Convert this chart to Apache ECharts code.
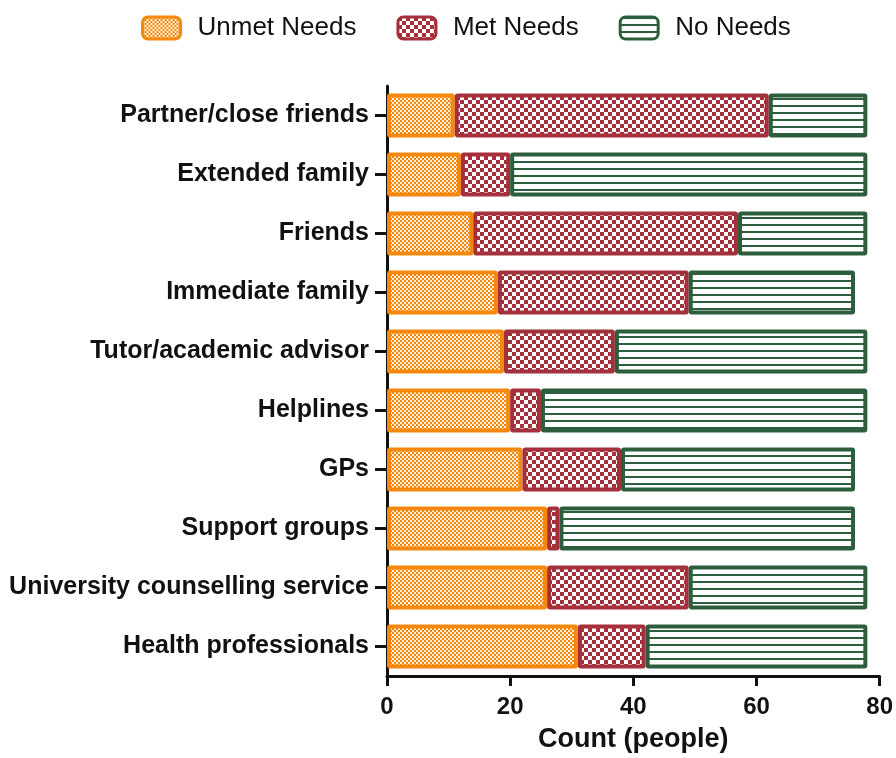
<!DOCTYPE html>
<html>
<head>
<meta charset="utf-8">
<script src="https://cdn.jsdelivr.net/npm/echarts@6/dist/echarts.min.js"></script>
<style>
  html, body { margin: 0; padding: 0; background: #fff; }
  #chart { width: 896px; height: 758px; }
</style>
</head>
<body>
<div id="chart"></div>
<script>
// categories top -> bottom
var categories = ['Partner/close friends', 'Extended family', 'Friends', 'Immediate family',
  'Tutor/academic advisor', 'Helplines', 'GPs', 'Support groups',
  'University counselling service', 'Health professionals'];
var unmetNeeds = [11, 12, 14, 18, 19, 20, 22, 26, 26, 31];
var metNeeds = [51, 8, 43, 31, 18, 5, 16, 2, 23, 11];
var noNeeds = [16, 58, 21, 27, 41, 53, 38, 48, 29, 36];
var xTicks = [0, 20, 40, 60, 80];

var FONT = '"Liberation Sans", Arial, sans-serif';
var ORANGE = '#F5890F', RED = '#A3303A', GREEN = '#2C5E3D';

// small canvas patterns for the hatch fills
function checker(size, c1, c2) {
    var cv = document.createElement('canvas');
    cv.width = size * 2; cv.height = size * 2;
    var ctx = cv.getContext('2d');
    ctx.fillStyle = c2; ctx.fillRect(0, 0, size * 2, size * 2);
    ctx.fillStyle = c1;
    ctx.fillRect(0, 0, size, size);
    ctx.fillRect(size, size, size, size);
    return { image: cv, repeat: 'repeat' };
}
function hlines(period, lw, c1, c2) {
    var cv = document.createElement('canvas');
    cv.width = 4; cv.height = period;
    var ctx = cv.getContext('2d');
    ctx.fillStyle = c2; ctx.fillRect(0, 0, 4, period);
    ctx.fillStyle = c1; ctx.fillRect(0, 0, 4, lw);
    return { image: cv, repeat: 'repeat' };
}

var myChart = echarts.init(document.getElementById('chart'));

function barSeries(name, data, fill, border) {
    return {
        name: name,
        type: 'bar',
        stack: 'total',
        barWidth: 44,
        data: data,
        itemStyle: {
            color: fill,
            borderColor: border,
            borderWidth: 4,
            borderRadius: 1
        }
    };
}

var option = {
    animation: false,
    textStyle: { fontFamily: FONT },
    legend: {
        top: 15,
        left: 141,
        padding: 0,
        icon: 'roundRect',
        itemWidth: 38,
        itemHeight: 22,
        itemGap: 40,
        itemStyle: { borderWidth: 3 },
        textStyle: { fontSize: 26, color: '#111', fontFamily: FONT, padding: [0, 0, 0, 12] },
        data: ['Unmet Needs', 'Met Needs', 'No Needs']
    },
    grid: {
        left: 387,
        right: 13,
        top: 86,
        bottom: 76
    },
    xAxis: {
        type: 'value',
        min: 0,
        max: 80,
        interval: 20,
        name: 'Count (people)',
        nameLocation: 'middle',
        nameGap: 50,
        nameTextStyle: { fontSize: 27, fontWeight: 'bold', color: '#111', fontFamily: FONT },
        axisLine: { show: true, lineStyle: { color: '#111', width: 3 } },
        axisTick: { show: true, length: 10, lineStyle: { color: '#111', width: 3 } },
        axisLabel: {
            fontSize: 24, fontWeight: 'bold', color: '#111', margin: 19,
            formatter: function (v) { return xTicks.indexOf(v) >= 0 ? String(v) : ''; }
        },
        splitLine: { show: false }
    },
    yAxis: {
        type: 'category',
        inverse: true,
        data: categories,
        axisLine: { show: true, lineStyle: { color: '#111', width: 3 } },
        axisTick: { show: true, alignWithLabel: true, length: 12, lineStyle: { color: '#111', width: 3 } },
        axisLabel: { fontSize: 25, fontWeight: 'bold', color: '#111', margin: 18, fontFamily: FONT }
    },
    series: [
        barSeries('Unmet Needs', unmetNeeds, checker(2, ORANGE, '#FFF1DC'), ORANGE),
        barSeries('Met Needs', metNeeds, checker(4, RED, '#FFFFFF'), RED),
        barSeries('No Needs', noNeeds, hlines(7, 2, GREEN, '#FFFFFF'), GREEN)
    ]
};

myChart.setOption(option);
window.addEventListener('resize', function () {
    myChart.resize();
});
</script>
</body>
</html>
